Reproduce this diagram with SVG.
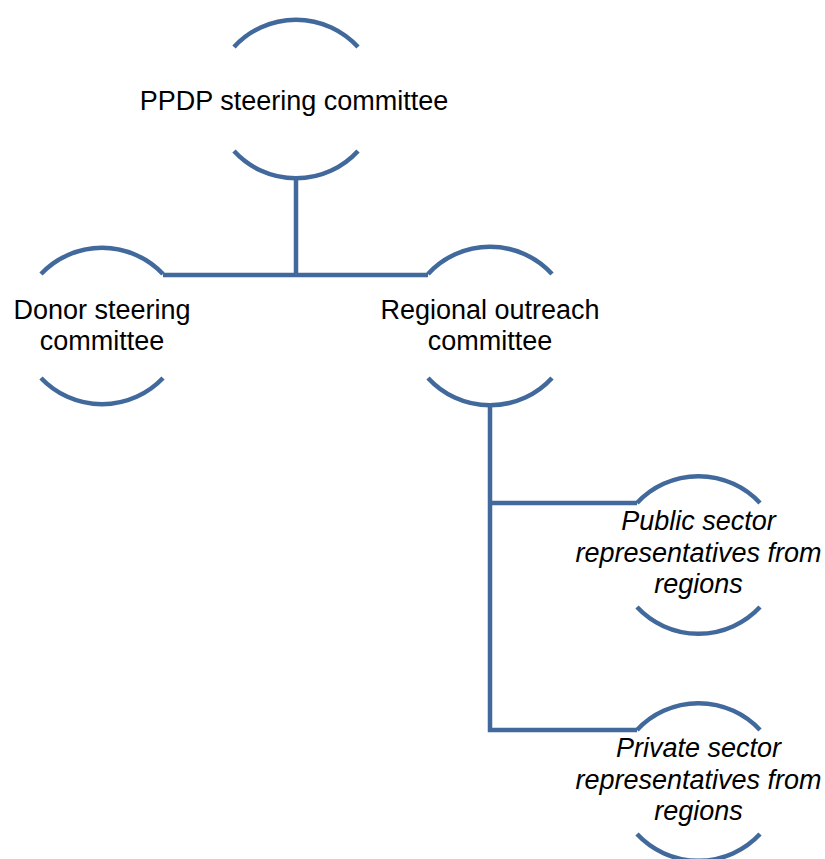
<svg xmlns="http://www.w3.org/2000/svg" width="825" height="859" viewBox="0 0 825 859">
<style>
.arc{fill:none;stroke:#41699C;stroke-width:4.5}
.con{fill:none;stroke:#41699C;stroke-width:4.5}
.t{font-family:"Liberation Sans",Arial,sans-serif;font-size:27px;fill:#000;text-anchor:middle}
.i{font-style:italic}
</style>
<rect width="825" height="859" fill="#fff"/>
<g id="connectors">
<path class="con" d="M296,176 V275"/>
<path class="con" d="M163,275 H428"/>
<path class="con" d="M490,405 V730 H637"/>
<path class="con" d="M490,503 H637"/>
</g>
<g id="ppdp">
<path class="arc" d="M234,47 A84,84 0 0 1 358,47"/>
<path class="arc" d="M234,151 A84,84 0 0 0 358,151"/>
<text class="t" x="294" y="110">PPDP steering committee</text>
</g>
<g id="donor">
<path class="arc" d="M41,274 A84,84 0 0 1 163,274"/>
<path class="arc" d="M41,378 A84,84 0 0 0 163,378"/>
<text class="t" x="102" y="319">Donor steering</text>
<text class="t" x="102" y="350">committee</text>
</g>
<g id="regional">
<path class="arc" d="M428,274 A84,84 0 0 1 552,274"/>
<path class="arc" d="M428,378 A84,84 0 0 0 552,378"/>
<text class="t" x="490" y="319">Regional outreach</text>
<text class="t" x="490" y="350">committee</text>
</g>
<g id="public">
<path class="arc" d="M637,503 A84,84 0 0 1 760,503"/>
<path class="arc" d="M637,607 A84,84 0 0 0 760,607"/>
<text class="t i" x="698.5" y="530">Public sector</text>
<text class="t i" x="698.5" y="562">representatives from</text>
<text class="t i" x="698.5" y="593">regions</text>
</g>
<g id="private">
<path class="arc" d="M637,730 A84,84 0 0 1 760,730"/>
<path class="arc" d="M637,834 A84,84 0 0 0 760,834"/>
<text class="t i" x="698.5" y="757">Private sector</text>
<text class="t i" x="698.5" y="789">representatives from</text>
<text class="t i" x="698.5" y="820">regions</text>
</g>
</svg>
